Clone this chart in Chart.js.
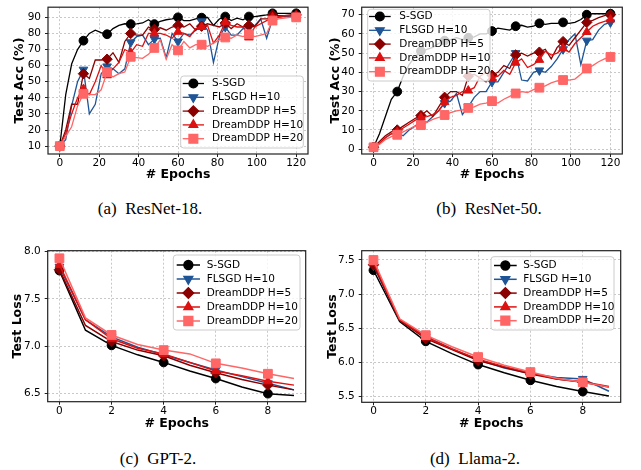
<!DOCTYPE html>
<html>
<head>
<meta charset="utf-8">
<script src="https://cdn.jsdelivr.net/npm/chart.js@4.4.1/dist/chart.umd.min.js"></script>
<style>
  body { margin: 0; background: #fff; }
  #wrap { position: relative; width: 641px; height: 470px; overflow: hidden; background: #fff; }
  .panel { position: absolute; }
  .cap { position: absolute; font-family: "Liberation Serif", "Times New Roman", serif; font-size: 17px; line-height: 20px; color: #000; white-space: pre; transform: translateX(-50%); }
</style>
</head>
<body>
<div id="wrap">
  <div class="panel" style="left:0;top:0;width:320px;height:190px"><canvas id="cA"></canvas></div>
  <div class="panel" style="left:320px;top:0;width:321px;height:190px"><canvas id="cB"></canvas></div>
  <div class="panel" style="left:0;top:235px;width:320px;height:200px"><canvas id="cC"></canvas></div>
  <div class="panel" style="left:320px;top:235px;width:321px;height:200px"><canvas id="cD"></canvas></div>
  <div class="cap" style="left:150px;top:199px">(a)  ResNet-18.</div>
  <div class="cap" style="left:489px;top:199px">(b)  ResNet-50.</div>
  <div class="cap" style="left:158px;top:449px">(c)  GPT-2.</div>
  <div class="cap" style="left:475px;top:449px">(d)  Llama-2.</div>
</div>
<script>
// series names (legend order)
const seriesNames = ["S-SGD", "FLSGD H=10", "DreamDDP H=5", "DreamDDP H=10", "DreamDDP H=20"];

// ResNet epochs (evaluated every 3 epochs)
const epochsRes = [0, 3, 6, 9, 12, 15, 18, 21, 24, 27, 30, 33, 36, 39, 42, 45, 48, 51, 54, 57, 60,
  63, 66, 69, 72, 75, 78, 81, 84, 87, 90, 93, 96, 99, 102, 105, 108, 111, 114, 117, 120];
// LLM epochs
const epochsLm = [0, 1, 2, 3, 4, 5, 6, 7, 8, 9];

// (a) ResNet-18 test accuracy
const r18Ssgd = [10, 42, 61, 70, 75.5, 80, 82, 80.5, 79.5, 83, 85, 86, 85.8, 86, 86.5, 88.5, 85.8, 87.5, 88.5, 89, 90,
  88, 88, 89, 89.8, 90, 85, 89, 90.5, 88, 89.5, 88.5, 90.5, 90.5, 91, 91.5, 92.5, 92.5, 92.5, 92.5, 92.5];
const r18Flsgd = [10, 14, 35, 50, 57.5, 30, 36, 55, 59.5, 58, 55, 58, 74.5, 78, 79, 73, 76.5, 77, 65, 80, 75,
  80, 79, 82, 87.5, 82, 62, 78, 84, 79, 79, 83, 84, 85, 89, 77, 89, 90, 90.5, 90.5, 90.5];
const r18Dream5 = [10, 20, 36, 36, 55, 52, 63.5, 63.5, 64, 68, 62, 75, 80, 79, 79, 84, 82.5, 83.5, 82, 84, 85,
  84, 86, 82, 84.5, 86, 85, 84, 86.5, 83, 86, 84, 85, 84, 89, 89, 91.5, 91, 91, 91.5, 91.5];
const r18Dream10 = [10, 18, 30, 40, 45.5, 42, 50, 60, 54, 58, 62, 70, 68, 73, 72, 80, 80, 80, 79, 77, 81,
  80, 78, 83, 84, 85, 74, 79, 87, 85, 84, 84, 77.5, 84, 86, 88, 90, 90.5, 91, 91, 91];
const r18Dream20 = [10, 16, 22, 35, 42.5, 42, 42, 45, 56, 53, 55, 56, 65.5, 65, 64.5, 67, 71, 76, 64, 73, 69.5,
  75, 71, 73, 73, 72, 74, 76, 77.5, 77, 79, 78, 79.5, 78, 79, 80, 88, 89, 89.5, 90, 90];

// (b) ResNet-50 test accuracy
const r50Ssgd = [1, 8, 17, 26, 30, 38, 44, 48, 51, 52, 53, 55, 56.5, 57, 58, 57, 58, 58.5, 60, 60, 61.5,
  63, 62.5, 62, 64, 64.5, 63.5, 64, 65.5, 65, 65.5, 65.5, 66, 65.5, 66, 67.5, 70, 70.5, 70.5, 70.5, 70.5];
const r50Flsgd = [1, 3, 6, 8, 8.5, 7, 10, 12, 15, 14, 17, 20, 24, 25, 29, 18, 22, 27, 30, 30, 35,
  35, 40, 45, 50, 36, 35.5, 40, 41, 40, 43, 47, 52, 57, 60, 44, 56.5, 57, 62, 65, 66];
const r50Dream5 = [1, 4, 7, 9, 10, 12, 14, 16, 17.5, 20, 17, 22, 27, 30, 30, 28, 38, 39, 37, 35, 38.5,
  40, 43.5, 42, 49, 50, 48.5, 50, 50.5, 52, 47, 53, 56, 54, 58, 62, 66, 67, 68.5, 69.5, 70];
const r50Dream10 = [1, 3, 6, 8, 9, 11, 13, 15, 16.5, 17, 18, 20, 24.5, 27, 28, 30, 30.5, 32, 38, 40, 37,
  38, 41, 39, 45, 47, 42.5, 44, 46.5, 51, 49, 50, 52.5, 50.5, 55, 58, 61, 64, 65.5, 66.5, 67.5];
const r50Dream20 = [1, 2.5, 5, 6.5, 7.5, 9, 10.5, 12, 12.5, 14, 15.5, 16.5, 17.8, 19, 20, 20.5, 21.5, 22, 23.5, 24, 25,
  24, 26, 27.5, 29, 30, 29.5, 31, 32, 33, 34.5, 35.5, 36, 36, 36.5, 39, 42, 43.5, 45.5, 47, 48];

// (c) GPT-2 test loss
const gptSsgd = [7.80, 7.17, 7.01, 6.91, 6.83, 6.74, 6.66, 6.57, 6.50, 6.48];
const gptFlsgd = [7.84, 7.28, 7.10, 6.99, 6.91, 6.83, 6.75, 6.68, 6.61, 6.54];
const gptDream5 = [7.81, 7.22, 7.05, 6.96, 6.90, 6.80, 6.72, 6.65, 6.59, 6.54];
const gptDream10 = [7.86, 7.28, 7.08, 6.98, 6.92, 6.83, 6.74, 6.69, 6.63, 6.59];
const gptDream20 = [7.93, 7.30, 7.12, 7.02, 6.96, 6.92, 6.82, 6.77, 6.71, 6.66];

// (d) Llama-2 test loss
const llamaSsgd = [7.35, 6.60, 6.31, 6.13, 5.97, 5.85, 5.74, 5.65, 5.575, 5.51];
const llamaFlsgd = [7.42, 6.62, 6.38, 6.20, 6.04, 5.92, 5.84, 5.78, 5.76, 5.58];
const llamaDream5 = [7.43, 6.62, 6.35, 6.19, 6.03, 5.93, 5.83, 5.76, 5.71, 5.64];
const llamaDream10 = [7.46, 6.63, 6.37, 6.20, 6.05, 5.94, 5.85, 5.76, 5.72, 5.65];
const llamaDream20 = [7.50, 6.64, 6.40, 6.23, 6.08, 5.96, 5.86, 5.77, 5.71, 5.64];

// tick labels
const xTicksRes = [0, 20, 40, 60, 80, 100, 120];
const xTicksLm = [0, 2, 4, 6, 8];
const yTicksA = [10, 20, 30, 40, 50, 60, 70, 80, 90];
const yTicksB = [0, 10, 20, 30, 40, 50, 60, 70];
const yTicksC = [6.5, 7.0, 7.5, 8.0];
const yTicksD = [5.5, 6.0, 6.5, 7.0, 7.5];

const FONT = "'DejaVu Sans', sans-serif";
const looks = [
  { color: "#000000", style: "circle", rot: 0, r: 4.4 },
  { color: "#1f5596", style: "triangle", rot: 180, r: 5 },
  { color: "#8b0000", style: "rectRot", rot: 0, r: 5.2 },
  { color: "#dd1111", style: "triangle", rot: 0, r: 5 },
  { color: "#ff6666", style: "rect", rot: 0, r: 6.2 }
];

const framePlugin = {
  id: "frame",
  afterDraw(chart) {
    const a = chart.chartArea, ctx = chart.ctx;
    ctx.save();
    ctx.strokeStyle = "#222";
    ctx.lineWidth = 1.2;
    ctx.strokeRect(a.left, a.top, a.right - a.left, a.bottom - a.top);
    ctx.restore();
    // legend inside the axes
    const lg = chart.options.plugins.boxLegend;
    if (!lg) return;
    ctx.save();
    ctx.beginPath();
    ctx.roundRect(lg.x, lg.y, lg.w, lg.h, 3);
    ctx.fillStyle = "rgba(255,255,255,0.8)";
    ctx.fill();
    ctx.strokeStyle = "#cccccc";
    ctx.lineWidth = 1;
    ctx.stroke();
    ctx.font = lg.fontSize + "px " + FONT;
    ctx.textBaseline = "middle";
    chart.data.datasets.forEach((ds, i) => {
      const lk = looks[i];
      const y = lg.rowY + i * lg.rowH;
      ctx.strokeStyle = lk.color;
      ctx.fillStyle = lk.color;
      ctx.lineWidth = lg.lw;
      ctx.beginPath();
      ctx.moveTo(lg.lx1, y);
      ctx.lineTo(lg.lx2, y);
      ctx.stroke();
      Chart.helpers.drawPoint(ctx, { pointStyle: lk.style, rotation: lk.rot, radius: lk.r, borderWidth: 1 }, (lg.lx1 + lg.lx2) / 2, y);
      ctx.fillStyle = "#000";
      ctx.fillText(ds.label, lg.tx, y);
    });
    ctx.restore();
  }
};

function makeChart(id, p) {
  const datasets = p.series.map((vals, i) => ({
    label: seriesNames[i],
    data: vals.map((v, j) => ({ x: p.epochs[j], y: v })),
    borderColor: looks[i].color,
    backgroundColor: looks[i].color,
    borderWidth: p.lw,
    pointStyle: looks[i].style,
    pointRotation: looks[i].rot,
    pointRadius: (c) => (c.dataIndex % p.markEvery === 0 ? looks[i].r : 0),
    pointBorderWidth: 1,
    pointHoverRadius: 0,
    tension: 0,
    order: 4 - i
  }));
  const tickFont = { family: FONT, size: 10.5 };
  const titleFont = { family: FONT, size: 12.5, weight: "bold" };
  new Chart(document.getElementById(id), {
    type: "line",
    data: { datasets },
    plugins: [framePlugin],
    options: {
      responsive: true,
      maintainAspectRatio: false,
      animation: false,
      layout: { padding: { left: 0, top: p.padTop, right: p.padRight, bottom: 0 } },
      plugins: {
        legend: { display: false },
        tooltip: { enabled: false },
        boxLegend: p.legend
      },
      scales: {
        x: {
          type: "linear",
          min: p.xMin,
          max: p.xMax,
          afterBuildTicks: (s) => { s.ticks = p.xTicks.map((v) => ({ value: v })); },
          afterFit: (s) => { s.height = p.xAxisH; s.paddingLeft = 0; s.paddingRight = 0; },
          grid: { color: "#c8c8c8", tickColor: "#222", tickLength: 3, tickBorderDash: [] },
          border: { display: false, dash: [2, 2] },
          ticks: { font: tickFont, color: "#000", padding: 0, autoSkip: false, maxRotation: 0 },
          title: { display: true, text: "# Epochs", font: titleFont, color: "#000", padding: { top: 0, bottom: p.xTitlePad } }
        },
        y: {
          min: p.yMin,
          max: p.yMax,
          afterBuildTicks: (s) => { s.ticks = p.yTicks.map((v) => ({ value: v })); },
          afterFit: (s) => { s.width = p.yAxisW; s.paddingTop = 0; s.paddingBottom = 0; },
          grid: { color: "#c8c8c8", tickColor: "#222", tickLength: 3, tickBorderDash: [] },
          border: { display: false, dash: [2, 2] },
          ticks: {
            font: tickFont, color: "#000", padding: p.yTickPad, autoSkip: false,
            callback: (v) => (p.decimals ? Number(v).toFixed(1) : String(v))
          },
          title: { display: true, text: p.yTitle, font: titleFont, color: "#000", padding: { top: p.yTitlePad, bottom: 0 } }
        }
      }
    }
  });
}

makeChart("cA", {
  epochs: epochsRes, series: [r18Ssgd, r18Flsgd, r18Dream5, r18Dream10, r18Dream20], markEvery: 4, lw: 1.3,
  xMin: -6, xMax: 126, yMin: 5.1, yMax: 96.3, xTicks: xTicksRes, yTicks: yTicksA, decimals: false,
  padTop: 4, padRight: 12, xAxisH: 36, yAxisW: 48, yTickPad: 4, yTitlePad: 12.5, xTitlePad: 7.5,
  yTitle: "Test Acc (%)",
  legend: { x: 180.7, y: 76, w: 122.6, h: 72, rowY: 83.5, rowH: 13.8, lx1: 182.7, lx2: 204, tx: 212, fontSize: 10.5, lw: 1.3 }
});
makeChart("cB", {
  epochs: epochsRes, series: [r50Ssgd, r50Flsgd, r50Dream5, r50Dream10, r50Dream20], markEvery: 4, lw: 1.3,
  xMin: -6, xMax: 126, yMin: -2.5, yMax: 73.9, xTicks: xTicksRes, yTicks: yTicksB, decimals: false,
  padTop: 4, padRight: 18.7, xAxisH: 36, yAxisW: 41.7, yTickPad: 4, yTitlePad: 8.5, xTitlePad: 7.5,
  yTitle: "Test Acc (%)",
  legend: { x: 47.7, y: 9.3, w: 122.3, h: 71.7, rowY: 16.5, rowH: 13.8, lx1: 49, lx2: 70.7, tx: 79.3, fontSize: 10.5, lw: 1.3 }
});
makeChart("cC", {
  epochs: epochsLm, series: [gptSsgd, gptFlsgd, gptDream5, gptDream10, gptDream20], markEvery: 2, lw: 1.5,
  xMin: -0.45, xMax: 9.45, yMin: 6.415, yMax: 8.01, xTicks: xTicksLm, yTicks: yTicksC, decimals: true,
  padTop: 15.7, padRight: 14.3, xAxisH: 33.3, yAxisW: 47.7, yTickPad: 4, yTitlePad: 10.5, xTitlePad: 4.2,
  yTitle: "Test Loss",
  legend: { x: 173.3, y: 20, w: 126.7, h: 75, rowY: 30, rowH: 14, lx1: 176.7, lx2: 200, tx: 206.7, fontSize: 10.5, lw: 1.5 }
});
makeChart("cD", {
  epochs: epochsLm, series: [llamaSsgd, llamaFlsgd, llamaDream5, llamaDream10, llamaDream20], markEvery: 2, lw: 1.5,
  xMin: -0.45, xMax: 9.45, yMin: 5.418, yMax: 7.636, xTicks: xTicksLm, yTicks: yTicksD, decimals: true,
  padTop: 15.7, padRight: 20.3, xAxisH: 32.7, yAxisW: 41.7, yTickPad: 4, yTitlePad: 5, xTitlePad: 4.2,
  yTitle: "Test Loss",
  legend: { x: 171, y: 21.7, w: 123, h: 73.3, rowY: 30.5, rowH: 13.8, lx1: 174, lx2: 196.7, tx: 203.3, fontSize: 10.5, lw: 1.5 }
});
</script>
</body>
</html>
